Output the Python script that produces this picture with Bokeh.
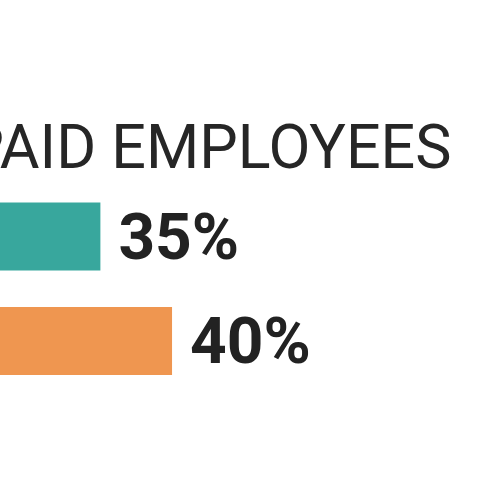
from bokeh.plotting import figure
from bokeh.models import Range1d, Label, ColumnDataSource
from bokeh.core.properties import value
from bokeh.embed import file_html
from bokeh.resources import INLINE

# data
categories = ["Group A", "Group B"]
values = [35, 40]
colors = ["#38a79d", "#ef9650"]
title_text = "PAID EMPLOYEES"

ypos = [1, 0]
src = ColumnDataSource(dict(
    cat=categories, v=values, y=ypos, color=colors,
    lab=[f"{v}%" for v in values],
))

p = figure(width=500, height=500, output_backend="svg", toolbar_location=None,
           x_range=Range1d(27.472, 62.36), y_range=Range1d(-1.450, 3.3346),
           min_border=0, styles={"margin-left": "-8px", "margin-top": "-8px"})
p.axis.visible = False
p.grid.visible = False
p.outline_line_color = None
p.background_fill_color = "white"
p.border_fill_color = "white"

p.hbar(y="y", left=0, right="v", height=0.65, fill_color="color",
       line_color=None, source=src)
p.text(x="v", y="y", text="lab", source=src, x_offset=18, y_offset=1,
       text_baseline="alphabetic", text_align="left",
       text_font=value("Roboto"), text_font_style="bold",
       text_font_size="64px", text_color="#222222")

p.add_layout(Label(x=459, y=346, x_units="screen", y_units="screen",
                   text=title_text, text_align="right", text_baseline="alphabetic",
                   text_font="Roboto", text_font_size="61px",
                   text_color="#262626"))

open("out.html", "w").write(file_html(p, INLINE))
